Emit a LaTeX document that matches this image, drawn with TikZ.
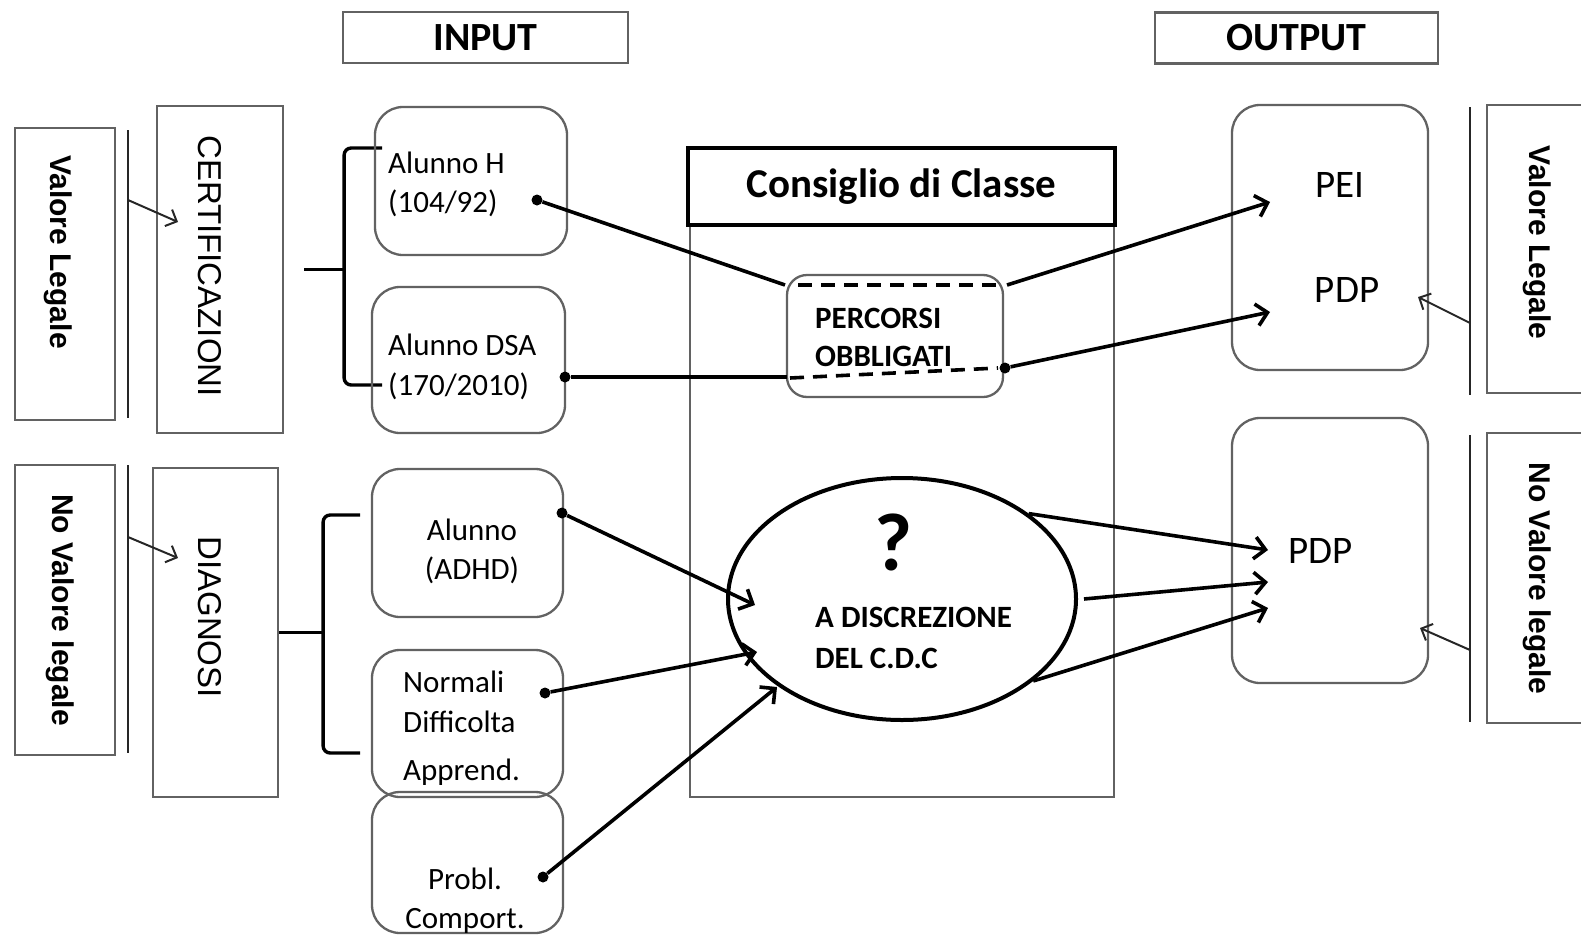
\documentclass[tikz,border=0pt]{standalone}
\usepackage{fontspec}
\setmainfont{Carlito}
\newfontfamily\arialf{Liberation Sans}
\usetikzlibrary{arrows.meta,shapes.geometric}

\definecolor{boxgray}{HTML}{626262}

\tikzset{
	gbox/.style={draw=boxgray, line width=2.3pt, inner sep=0pt},
	rbox/.style={gbox, rounded corners=28pt},
	vtxt/.style={rotate=-90, inner sep=0pt, font=\arialf\fontsize{33}{36}\selectfont},
	vbold/.style={vtxt, font=\arialf\bfseries\fontsize{30}{34}\selectfont},
	intxt/.style={inner sep=0pt, align=left, font=\fontsize{31}{39}\selectfont},
	dot/.style={circle, fill=black, inner sep=0pt, minimum size=11pt},
	conn/.style={line width=3.6pt},
	arr/.style={conn, -{Straight Barb[length=11pt,width=22pt]}},
	thinarr/.style={line width=2pt, draw=black!85, -{Straight Barb[length=9pt,width=18pt]}},
	sideline/.style={line width=2pt, black!85},
	brace/.style={line width=3.4pt, rounded corners=7pt},
	dsh/.style={line width=3.6pt, dash pattern=on 14pt off 9pt}
}

\begin{document}
\begin{tikzpicture}[x=1pt, y=-1pt]
	\useasboundingbox (0,0) rectangle (1581,937);

	% headers
	\node[gbox, minimum width=285pt, minimum height=51pt, font=\bfseries\fontsize{40}{40}\selectfont] (inp) at (485.5,37.5) {INPUT};
	\node[gbox, minimum width=283pt, minimum height=51pt, font=\bfseries\fontsize{40}{40}\selectfont] (outp) at (1296.5,38) {OUTPUT};

	% left side: legal value and sources
	\node[gbox, minimum width=100pt, minimum height=292pt] (vlA) at (65,274) {};
	\node[vbold] (vlAt) at (58,252) {Valore Legale};
	\node[gbox, minimum width=100pt, minimum height=290pt] (vlB) at (65,610) {};
	\node[vbold] (vlBt) at (60,610) {No Valore legale};
	\coordinate (lA1) at (128,130); \coordinate (lA2) at (128,418);
	\coordinate (lB1) at (128,465); \coordinate (lB2) at (128,753);
	\draw[sideline] (lA1) -- (lA2);
	\draw[sideline] (lB1) -- (lB2);

	\node[gbox, minimum width=126pt, minimum height=327pt] (cert) at (220,269.5) {};
	\node[vtxt] (certt) at (210,266) {CERTIFICAZIONI};
	\node[gbox, minimum width=125pt, minimum height=329pt] (diag) at (215.5,632.5) {};
	\node[vtxt] (diagt) at (210,617) {DIAGNOSI};
	\coordinate (tA) at (178,222); \coordinate (tB) at (178,558);
	\draw[thinarr] (128,200) -- (tA);
	\draw[thinarr] (128,537) -- (tB);

	% braces
	\draw[brace, rounded corners=0pt] ([xshift=20pt]cert.east) -- ++(40,0) coordinate (bC);
	\draw[brace] (382,148) -| (bC) |- (382,385);
	\draw[brace, rounded corners=0pt] (diag.east) -- ++(44,0) coordinate (bD);
	\draw[brace] (360,515) -| (bD) |- (360,753);

	% input students
	\node[rbox, minimum width=192pt, minimum height=148pt] (aH) at (471,181) {};
	\node[intxt, anchor=west] (aHt) at (388,184) {Alunno H\\(104/92)};
	\node[rbox, minimum width=193pt, minimum height=146pt] (aD) at (468.5,360) {};
	\node[intxt, anchor=west, font=\fontsize{31}{40}\selectfont] (aDt) at (388,367) {Alunno DSA\\(170/2010)};
	\node[rbox, minimum width=191pt, minimum height=148pt] (aA) at (467.5,543) {};
	\node[intxt, align=center] (aAt) at (472,551) {Alunno\\(ADHD)};
	\node[rbox, minimum width=191pt, minimum height=147pt] (aN) at (467.5,723.5) {};
	\node[intxt, anchor=west, font=\fontsize{31}{40}\selectfont] (aNt) at (403,728) {Normali\\Difficolta\\[8pt]Apprend.};
	\node[rbox, minimum width=191pt, minimum height=141pt] (aP) at (467.5,862.5) {};
	\node[intxt, align=center] (aPt) at (465,901) {Probl.\\Comport.};

	% consiglio di classe
	\node[gbox, minimum width=424pt, minimum height=572pt] (cdc) at (902,511) {};
	\node[draw, line width=4.5pt, fill=white, minimum width=427pt, minimum height=77pt, font=\bfseries\fontsize{41}{41}\selectfont] (cdct) at (901.5,186.5) {Consiglio di Classe};

	\node[gbox, rounded corners=20pt, minimum width=216pt, minimum height=122pt] (pc) at (895,336) {};
	\node[intxt, anchor=west, font=\bfseries\fontsize{31}{38}\selectfont] (pct) at (815,337) {PERCORSI\\OBBLIGATI};
	\coordinate (pcA) at (785,285); \coordinate (pcB) at (1007,285);
	\coordinate (pcC) at (787,377); \coordinate (pcD) at (790,378);
	\draw[dsh] (798,285) -- (998,285);
	\draw[dsh] (pcD) -- (998,368);

	\node[draw, ellipse, line width=4pt, minimum width=348pt, minimum height=242pt] (ell) at (902,599) {};
	\node[inner sep=0pt, font=\bfseries\fontsize{82}{82}\selectfont] (qm) at (893,542) {?};
	\node[intxt, anchor=west, font=\bfseries\fontsize{31}{41}\selectfont] (ellt) at (815,638) {A DISCREZIONE\\DEL C.D.C};

	% output boxes
	\node[rbox, minimum width=196pt, minimum height=265pt] (oA) at (1330,237.5) {};
	\node[inner sep=0pt, anchor=base, font=\fontsize{39}{39}\selectfont] (pei) at (1340,197) {PEI};
	\node[inner sep=0pt, anchor=base, font=\fontsize{39}{39}\selectfont] (pdpA) at (1347,302) {PDP};
	\node[rbox, minimum width=196pt, minimum height=265pt] (oB) at (1330,550.5) {};
	\node[inner sep=0pt, anchor=base west, font=\fontsize{39}{39}\selectfont] (pdpB) at (1288,563) {PDP};

	% right side: legal value
	\node[gbox, minimum width=113pt, minimum height=288pt] (vrA) at (1543.5,249) {};
	\node[vbold] (vrAt) at (1537,242.5) {Valore Legale};
	\node[gbox, minimum width=113pt, minimum height=290pt] (vrB) at (1543.5,578) {};
	\node[vbold] (vrBt) at (1537,578.5) {No Valore legale};
	\coordinate (lC1) at (1470,107); \coordinate (lC2) at (1470,395);
	\coordinate (lD1) at (1470,435); \coordinate (lD2) at (1470,722);
	\draw[sideline] (lC1) -- (lC2);
	\draw[sideline] (lD1) -- (lD2);
	\coordinate (tC) at (1418,297); \coordinate (tD) at (1420,628);
	\draw[thinarr] (1470,323) -- (tC);
	\draw[thinarr] (1470,650) -- (tD);

	% connectors
	\node[dot] (dH) at (537,200) {};
	\node[dot] (dD) at (565,377) {};
	\node[dot] (dA) at (562,513) {};
	\node[dot] (dN) at (545,693) {};
	\node[dot] (dP) at (543,877) {};
	\node[dot] (dR) at (1005,368) {};

	\coordinate (peiT) at (1270,202); \coordinate (pdpT) at (1270,312);
	\draw[conn] (dH) -- (pcA);
	\draw[conn] (dD) -- (pcC);
	\draw[arr] (pcB) -- (peiT);
	\draw[arr] (dR) -- (pdpT);

	\coordinate (eA) at (755,605); \coordinate (eN) at (757,652); \coordinate (eP) at (777,687);
	\draw[arr] (dA) -- (eA);
	\draw[arr] (dN) -- (eN);
	\draw[arr] (dP) -- (eP);

	\coordinate (oT1) at (1268,550); \coordinate (oT2) at (1268,582); \coordinate (oT3) at (1268,608);
	\draw[arr] (ell.34) -- (oT1);
	\draw[arr] ([xshift=6pt]ell.east) -- (oT2);
	\draw[arr] (ell.-32) -- (oT3);
\end{tikzpicture}
\end{document}
